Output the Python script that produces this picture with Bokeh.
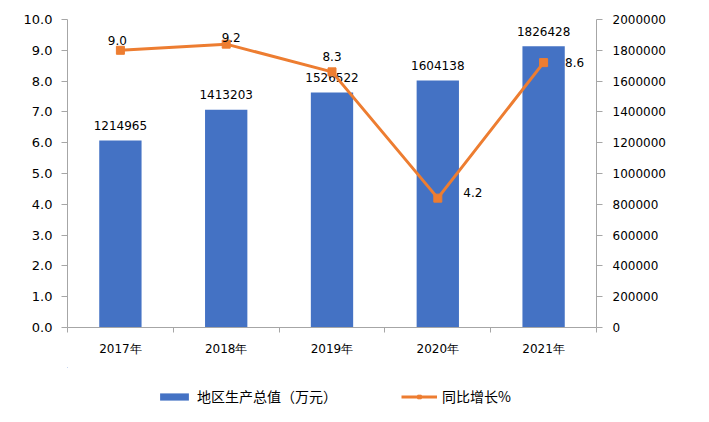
from bokeh.plotting import figure
from bokeh.layouts import column
from bokeh.models import (Range1d, LinearAxis, FixedTicker, NumeralTickFormatter,
                          ColumnDataSource, LabelSet, Legend, LegendItem)
from bokeh.core.properties import value
from bokeh.embed import file_html
from bokeh.resources import INLINE

# ---- data ----
years = ["2017年", "2018年", "2019年", "2020年", "2021年"]
gdp = [1214965, 1413203, 1526522, 1604138, 1826428]
growth = [9.0, 9.2, 8.3, 4.2, 8.6]
left_ticks = [0, 1, 2, 3, 4, 5, 6, 7, 8, 9, 10]
right_ticks = [0, 200000, 400000, 600000, 800000, 1000000, 1200000, 1400000,
               1600000, 1800000, 2000000]
series_names = ["地区生产总值（万元）", "同比增长%"]

# ---- styles ----
BLUE = "#4472C4"
ORANGE = "#ED7D31"
AXIS = "#A6A6A6"
TEXT = "#000000"
FONT = "DejaVu Sans"
growth_dx = [-3, 5, 0, 35, 31]
growth_dy = [10, 7, 15, 6, 0]

xs = [i + 0.5 for i in range(len(years))]
src = ColumnDataSource(dict(
    x=xs, gdp=gdp, gdp_txt=[str(v) for v in gdp],
    growth=growth, growth_txt=["%.1f" % v for v in growth],
    dx=growth_dx, dy=growth_dy,
))

p = figure(frame_width=529, frame_height=308, output_backend="svg", toolbar_location=None,
           x_range=Range1d(0, len(years)), y_range=Range1d(0, 10),
           x_axis_location=None, y_axis_location=None,
           min_border_left=67, min_border_right=113, min_border_top=19,
           min_border_bottom=40)
p.extra_y_ranges = {"gdp": Range1d(0, 2000000)}
p.xgrid.visible = False
p.ygrid.visible = False
p.outline_line_color = None
p.background_fill_color = "white"
p.border_fill_color = "white"

# axes
xaxis = LinearAxis(
    ticker=FixedTicker(ticks=xs, minor_ticks=list(range(len(years) + 1))),
    major_label_overrides={x: y for x, y in zip(xs, years)},
    major_tick_out=0, major_tick_in=0, minor_tick_out=5, minor_tick_in=0,
    axis_line_color=AXIS, minor_tick_line_color=AXIS, major_tick_line_color=None,
    major_label_standoff=9, major_label_text_font_size="12px",
    major_label_text_font=FONT, major_label_text_color=TEXT)
p.add_layout(xaxis, "below")

laxis = LinearAxis(
    ticker=FixedTicker(ticks=left_ticks), formatter=NumeralTickFormatter(format="0.0"),
    major_tick_out=6, major_tick_in=0, minor_tick_out=0, minor_tick_in=0,
    axis_line_color=AXIS, major_tick_line_color=AXIS,
    major_label_standoff=9, major_label_text_font_size="13px",
    major_label_text_font=FONT, major_label_text_color=TEXT)
p.add_layout(laxis, "left")

raxis = LinearAxis(
    y_range_name="gdp",
    ticker=FixedTicker(ticks=right_ticks), formatter=NumeralTickFormatter(format="0"),
    major_tick_out=6, major_tick_in=0, minor_tick_out=0, minor_tick_in=0,
    axis_line_color=AXIS, major_tick_line_color=AXIS,
    major_label_standoff=10, major_label_text_font_size="12px",
    major_label_text_font=FONT, major_label_text_color=TEXT)
p.add_layout(raxis, "right")

# bars
bars = p.vbar(x="x", top="gdp", width=0.4, source=src, y_range_name="gdp",
              fill_color=BLUE, line_color=None)
bar_labels = LabelSet(x="x", y="gdp", text="gdp_txt", source=src, y_range_name="gdp",
                      y_offset=15, text_align="center", text_baseline="middle",
                      text_font_size="12px", text_font=value(FONT), text_color=TEXT,
                      level="underlay")
p.add_layout(bar_labels)

# line
ln = p.line(x="x", y="growth", source=src, line_color=ORANGE, line_width=3)
mk = p.scatter(x="x", y="growth", source=src, marker="square", size=8,
               fill_color=ORANGE, line_color=ORANGE)
g_labels = LabelSet(x="x", y="growth", text="growth_txt", source=src,
                    x_offset="dx", y_offset="dy", text_align="center",
                    text_baseline="middle", text_font_size="12px",
                    text_font=value(FONT), text_color=TEXT)
p.add_layout(g_labels)

# legend strip: a separate figure under the chart with the same glyph styles;
# its ranges lie away from the data so only the legend shows
lf = figure(width=709, height=55, output_backend="svg", toolbar_location=None,
            x_range=Range1d(5.5, 6.5), y_range=Range1d(-2, -1),
            x_axis_location=None, y_axis_location=None,
            min_border=0, outline_line_color=None)
lf.xgrid.visible = False
lf.ygrid.visible = False
lb = lf.vbar(x="x", top="gdp", width=0.4, source=src, fill_color=BLUE, line_color=None)
ll = lf.line(x="x", y="growth", source=src, line_color=ORANGE, line_width=3)
lm = lf.scatter(x="x", y="growth", source=src, marker="square", size=8,
                fill_color=ORANGE, line_color=ORANGE)
legend = Legend(items=[LegendItem(label=series_names[0], renderers=[lb]),
                       LegendItem(label=series_names[1], renderers=[ll, lm])],
                orientation="horizontal", location=(89, 16),
                glyph_width=36, glyph_height=9, label_standoff=5, spacing=64,
                label_text_font_size="14px", label_text_font="Noto Sans CJK SC",
                label_text_color=TEXT, border_line_color=None,
                background_fill_alpha=0, padding=0, margin=0)
lf.add_layout(legend, "center")

layout = column(p, lf, spacing=0)
open("out.html", "w").write(file_html(layout, INLINE))
